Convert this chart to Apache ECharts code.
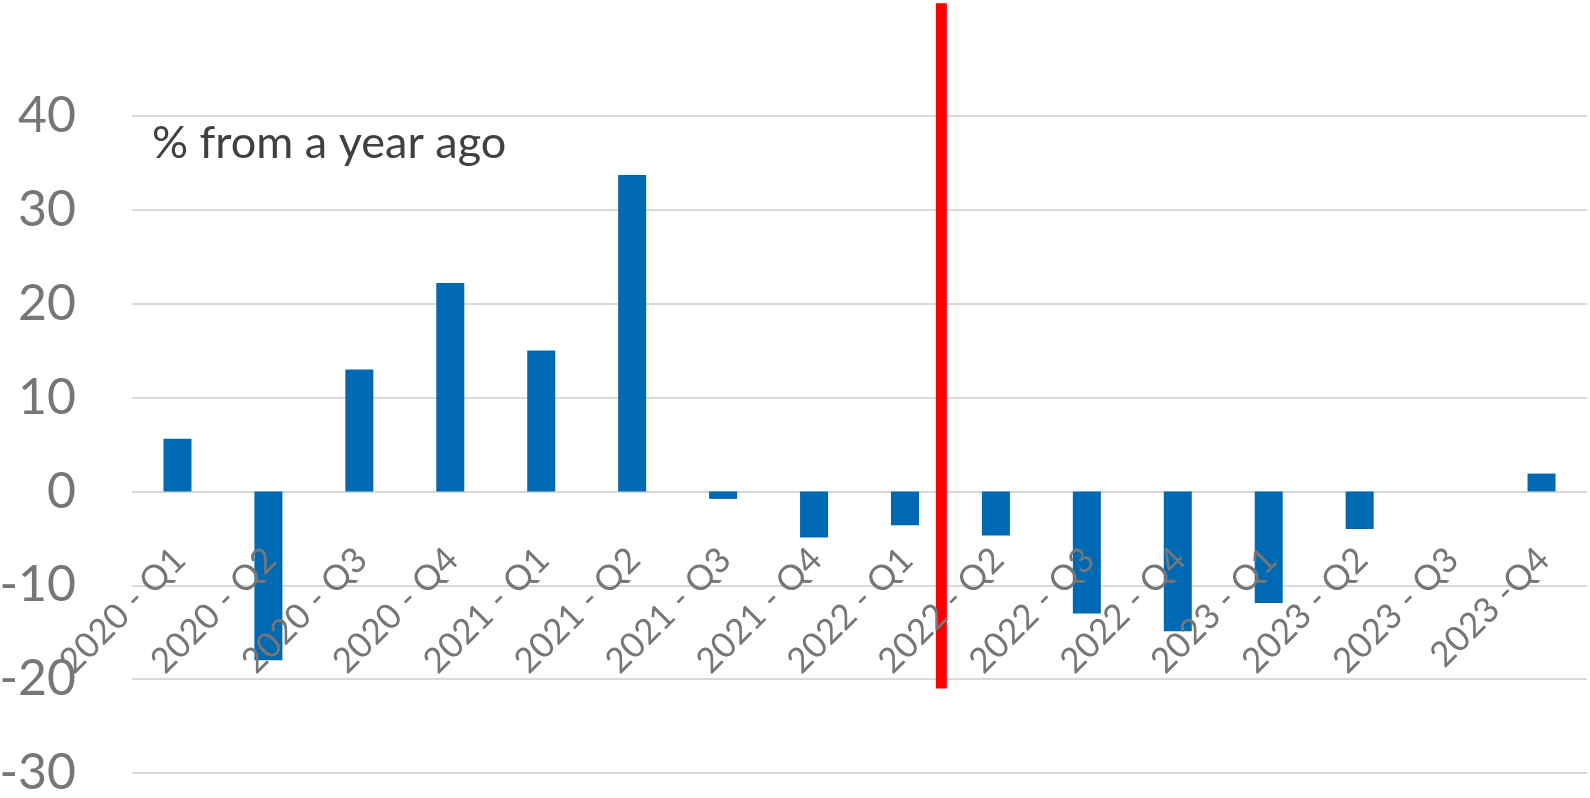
<!DOCTYPE html>
<html>
<head>
<meta charset="utf-8">
<script src="https://cdn.jsdelivr.net/npm/echarts@6/dist/echarts.min.js"></script>
<style>
  html, body { margin: 0; padding: 0; background: #ffffff; }
  #chart { width: 1590px; height: 798px; }
</style>
</head>
<body>
<div id="chart"></div>
<script>
var categories = [
  "2020 - Q1", "2020 - Q2", "2020 - Q3", "2020 - Q4",
  "2021 - Q1", "2021 - Q2", "2021 - Q3", "2021 - Q4",
  "2022 - Q1", "2022 - Q2", "2022 - Q3", "2022 - Q4",
  "2023 - Q1", "2023 - Q2", "2023 - Q3", "2023 -Q4"
];
var values = [
  5.6, -18.0, 13.0, 22.2,
  15.0, 33.7, -0.8, -4.9,
  -3.6, -4.7, -13.0, -14.9,
  -11.9, -4.0, 0, 1.9
];
// red divider: position in category index units, and its vertical extent
var dividerAt = 8.4;
var dividerRange = [-21, 52];

var yMin = -30;
var yMax = 52;
var labelFont = "Lato, 'Noto Sans', sans-serif";

var chart = echarts.init(document.getElementById("chart"));

// grid lines at -30..40 only; hide the ones at 50 and top edge
var gridColors = [];
for (var v = yMin; v <= 40; v += 10) gridColors.push("#d9d9d9");
gridColors.push("rgba(0,0,0,0)", "rgba(0,0,0,0)");

var option = {
  animation: false,
  backgroundColor: "#ffffff",
  title: {
    text: "% from a year ago",
    left: 147,
    top: 116,
    textStyle: {
      fontFamily: labelFont,
      fontSize: 45,
      fontWeight: "normal",
      color: "#404040",
    },
  },
  grid: {
    left: 132,
    right: 3,
    top: 3.3,
    bottom: 25,
    outerBoundsMode: "none",
    containLabel: false,
  },
  xAxis: [
    {
      type: "category",
      data: categories,
      axisLine: { show: false, onZero: false },
      axisTick: { show: false },
      axisLabel: {
        // labels sit just under the zero line, as in the source chart
        interval: 0,
        rotate: 45,
        margin: -217,
        padding: [0, -3, 0, 0],
        color: "#767676",
        fontFamily: labelFont,
        fontSize: 35,
        hideOverlap: false,
      },
      z: 10,
    },
    {
      // hidden helper axis used to place the divider between categories
      type: "value",
      min: -0.5,
      max: categories.length - 0.5,
      show: false,
    },
  ],
  yAxis: {
    type: "value",
    min: yMin,
    max: yMax,
    interval: 10,
    axisLine: { show: false },
    axisTick: { show: false },
    axisLabel: {
      margin: 56,
      color: "#767676",
      fontFamily: labelFont,
      fontSize: 50,
      formatter: function (val) {
        return val > 40 ? "" : String(val);
      },
    },
    splitLine: {
      lineStyle: { color: gridColors, width: 2 },
    },
  },
  series: [
    {
      type: "bar",
      data: values,
      barWidth: 28,
      itemStyle: { color: "#0069b4" },
    },
    {
      type: "line",
      xAxisIndex: 1,
      data: [
        [dividerAt, dividerRange[0]],
        [dividerAt, dividerRange[1]],
      ],
      symbol: "none",
      lineStyle: { color: "#ff0000", width: 11, cap: "butt" },
      z: 5,
    },
  ],
};

chart.setOption(option);
</script>
</body>
</html>
